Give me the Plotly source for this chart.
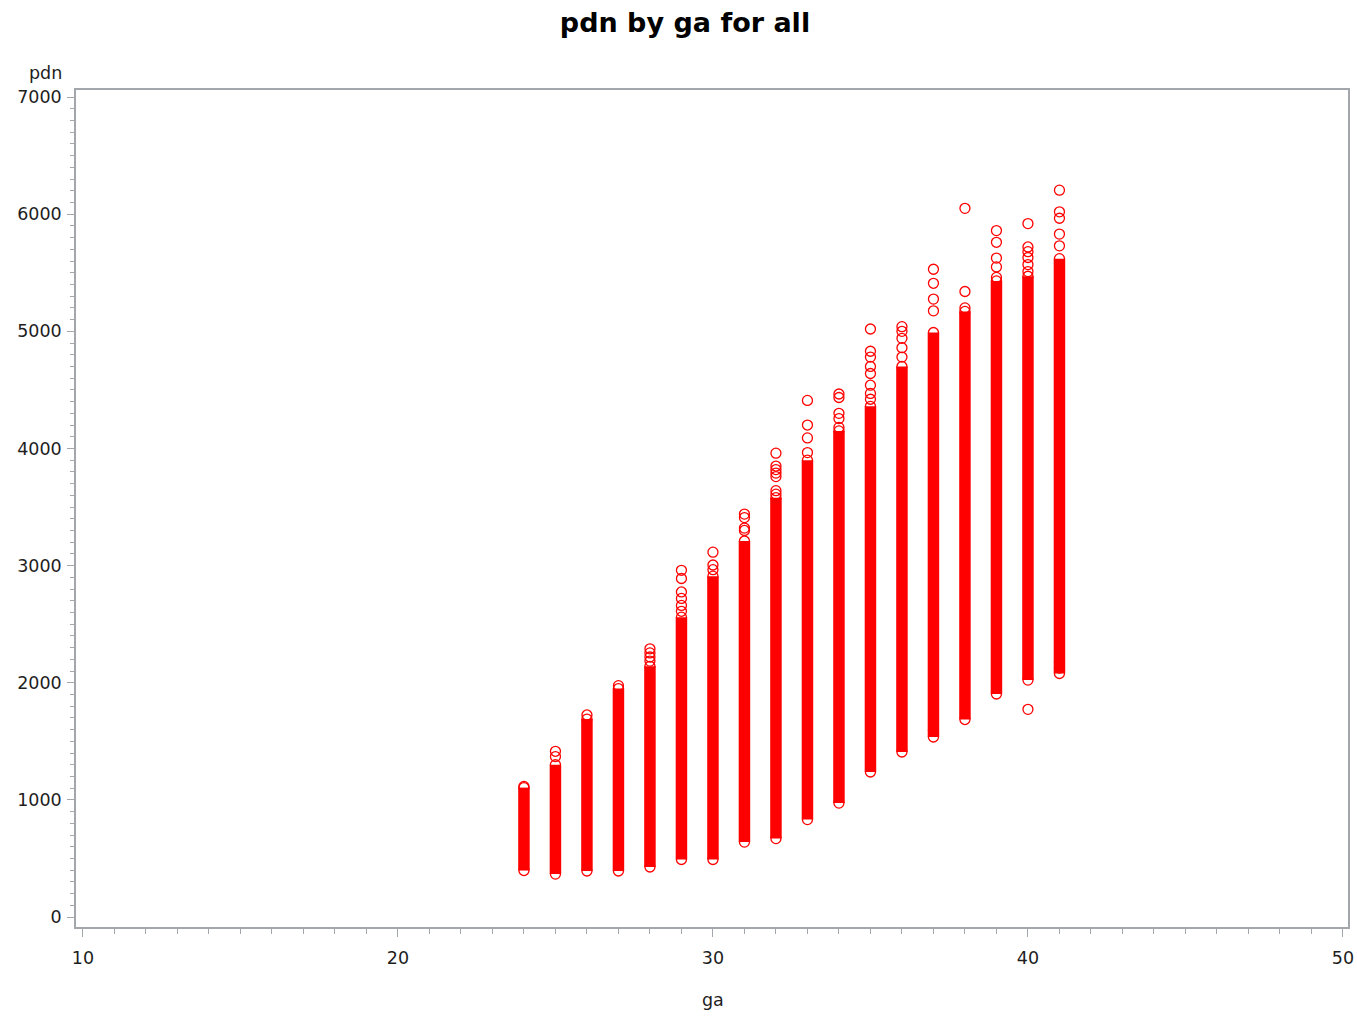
import plotly.graph_objects as go

# ---- data ----
ga = [24, 25, 26, 27, 28, 29, 30, 31, 32, 33, 34, 35, 36, 37, 38, 39, 40, 41]

# dense core of each column (lowest and highest value of the solid band)
core_low = [397, 367, 393, 393, 427, 491, 491, 640, 670, 832, 973, 1238, 1409, 1537, 1686, 1904, 2023, 2079]
core_high = [1105, 1300, 1690, 1950, 2140, 2560, 2910, 3210, 3580, 3900, 4150, 4360, 4700, 4990, 5170, 5430, 5470, 5620]

# isolated points above the core
upper_points = [
    [1115],
    [1370, 1415],
    [1725],
    [1975],
    [2185, 2220, 2255, 2290],
    [2610, 2660, 2720, 2775, 2890, 2960],
    [2965, 3005, 3115],
    [3300, 3320, 3410, 3440],
    [3610, 3640, 3760, 3790, 3820, 3850, 3960],
    [3965, 4090, 4200, 4410],
    [4180, 4255, 4300, 4435, 4465],
    [4420, 4470, 4540, 4640, 4700, 4780, 4830, 5020],
    [4780, 4860, 4940, 5000, 5040],
    [5175, 5275, 5410, 5530],
    [5200, 5340, 6050],
    [5460, 5550, 5625, 5760, 5860],
    [5510, 5570, 5630, 5680, 5720, 5920],
    [5730, 5830, 5965, 6020, 6205],
]

# isolated points below the core
lower_points = [
    [], [], [], [], [], [], [], [], [], [], [], [], [], [1596], [], [], [1773], [2126, 2177],
]

x_ticks = [10, 20, 30, 40, 50]
y_ticks = [0, 1000, 2000, 3000, 4000, 5000, 6000, 7000]

RED = "#FF0000"
AXIS = "#A3A7AB"
TXT = "#1E1E1E"
FONT = "DejaVu Sans"

W, H = 1357, 1016
L, T = 76, 90
R, B = 9, 89
PW, PH = W - L - R, H - T - B

fig = go.Figure()

# dense cores as thick vertical segments
for g, lo, hi in zip(ga, core_low, core_high):
    fig.add_trace(go.Scatter(
        x=[g, g], y=[lo, hi], mode="lines",
        line=dict(color=RED, width=11.5),
        hoverinfo="skip", showlegend=False,
    ))

# all individual circle markers
px, py = [], []
for g, lo, hi, up, dn in zip(ga, core_low, core_high, upper_points, lower_points):
    for v in [lo, hi] + up + dn:
        px.append(g)
        py.append(v)

fig.add_trace(go.Scatter(
    x=px, y=py, mode="markers",
    marker=dict(symbol="circle-open", size=10, color=RED, line=dict(width=1.3, color=RED)),
    showlegend=False,
))

fig.update_layout(
    width=W, height=H,
    paper_bgcolor="white", plot_bgcolor="white",
    margin=dict(l=L, r=R, t=T, b=B, autoexpand=False),
    title=dict(text="<b>pdn by ga for all</b>", x=685 / W, xanchor="center", xref="container",
               y=1 - 23 / H, yanchor="middle", yref="container",
               font=dict(family=FONT, size=27, color="black")),
    font=dict(family=FONT, size=17.5, color=TXT),
)

fig.update_xaxes(
    range=[9.78, 50.16], tickvals=x_ticks, ticktext=[str(v) for v in x_ticks],
    showgrid=False, zeroline=False, automargin=False,
    showline=True, linecolor=AXIS, linewidth=1.5, mirror=True,
    ticks="outside", ticklen=8, tickwidth=1.2, tickcolor=AXIS,
    minor=dict(dtick=1, ticks="outside", ticklen=5, tickwidth=1.2, tickcolor=AXIS, showgrid=False),
    tickfont=dict(family=FONT, size=17.5, color=TXT),
    ticklabelstandoff=6,
)
fig.update_yaxes(
    range=[-85, 7060], tickvals=y_ticks, ticktext=[str(v) for v in y_ticks],
    showgrid=False, zeroline=False, automargin=False,
    showline=True, linecolor=AXIS, linewidth=1.5, mirror=True,
    ticks="outside", ticklen=7, tickwidth=1.2, tickcolor=AXIS,
    minor=dict(dtick=100, ticks="outside", ticklen=4, tickwidth=1.2, tickcolor=AXIS, showgrid=False),
    tickfont=dict(family=FONT, size=17.5, color=TXT),
    ticklabelstandoff=2,
)

fig.add_annotation(text="pdn", xref="paper", yref="paper", x=-31 / PW, y=1 + 17 / PH,
                   xanchor="center", yanchor="middle", showarrow=False,
                   font=dict(family=FONT, size=17.5, color=TXT))
fig.add_annotation(text="ga", xref="x", yref="paper", x=30, y=-(1000 - 927) / PH,
                   xanchor="center", yanchor="middle", showarrow=False,
                   font=dict(family=FONT, size=17.5, color=TXT))

fig.write_html(
    "out.html",
    config={"displayModeBar": False},
    post_script="document.body.style.margin='0';document.body.style.overflow='hidden';",
)
